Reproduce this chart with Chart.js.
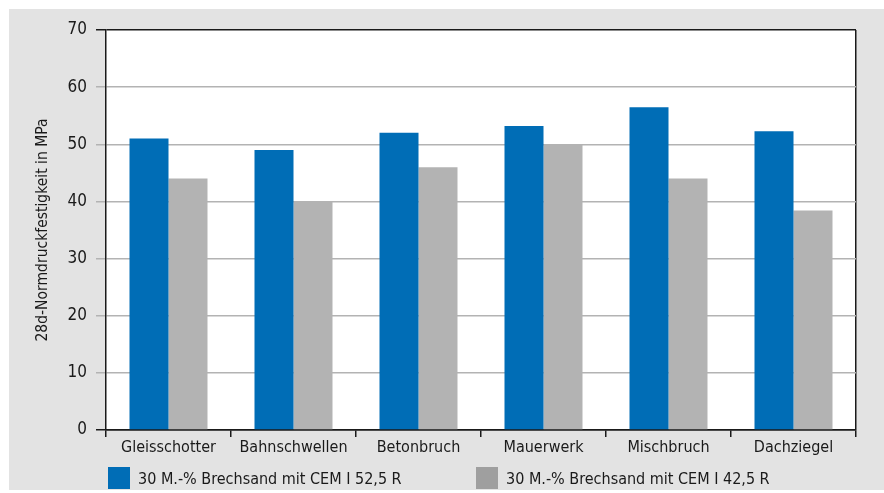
<!DOCTYPE html>
<html>
<head>
<meta charset="utf-8">
<script src="https://cdn.jsdelivr.net/npm/chart.js@4/dist/chart.umd.min.js"></script>
<style>
  body { margin: 0; background: #fff; }
  #wrap { position: absolute; left: 9px; top: 9px; width: 875px; height: 481px; background: #e3e3e3; }
  #chart { position: absolute; left: 0; top: 0; }
  .leg { position: absolute; top: 458px; height: 22px; display: flex; align-items: center;
         font-family: "DejaVu Sans Condensed", "Liberation Sans Narrow", sans-serif;
         font-size: 16px; color: #1a1a1a; white-space: nowrap; }
  .leg span.box { display: inline-block; width: 22px; height: 22px; margin-right: 8px; }
</style>
</head>
<body>
<div id="wrap">
  <canvas id="chart" width="875" height="481"></canvas>
  <div id="legend"></div>
</div>
<script>
const wrap = document.getElementById("wrap");
const canvas = document.getElementById("chart");
const legendBox = document.getElementById("legend");

// Categories on the x axis
const categories = ["Gleisschotter", "Bahnschwellen", "Betonbruch", "Mauerwerk", "Mischbruch", "Dachziegel"];

// Series names
const seriesNames = ["30 M.-% Brechsand mit CEM I 52,5 R", "30 M.-% Brechsand mit CEM I 42,5 R"];

// 28d values in MPa
const cem525 = [51, 49, 52, 53.2, 56.5, 52.3];
const cem425 = [44, 40, 46, 50, 44, 38.4];

// Colours
const barColors = ["#006db6", "#b3b3b3"];
const legendColors = ["#006db6", "#9f9f9f"];
const legendLeft = [99, 467];

const fontFamily = '"DejaVu Sans Condensed", "Liberation Sans Narrow", sans-serif';
const dark = "#1a1a1a";

// White plot area
const plotBackground = {
  id: "plotBackground",
  beforeDraw(chart) {
    const { ctx, chartArea } = chart;
    ctx.save();
    ctx.fillStyle = "#ffffff";
    ctx.fillRect(chartArea.left, chartArea.top, chartArea.right - chartArea.left, chartArea.bottom - chartArea.top);
    ctx.restore();
  },
};

let myChart = new Chart(canvas, {
  type: "bar",
  plugins: [plotBackground],
  data: {
    labels: categories,
    datasets: [
      { label: seriesNames[0], data: cem525, backgroundColor: barColors[0] },
      { label: seriesNames[1], data: cem425, backgroundColor: barColors[1] },
    ],
  },
  options: {
    responsive: false,
    animation: false,
    layout: { padding: { left: 0, top: 21, right: 28, bottom: 0 } },
    datasets: { bar: { categoryPercentage: 0.624, barPercentage: 1 } },
    plugins: {
      legend: { display: false },
      tooltip: { enabled: false },
    },
    scales: {
      x: {
        grid: {
          offset: true,
          drawOnChartArea: true,
          color: (c) => (c.type === "tick" ? "transparent" : dark),
          tickColor: dark,
          tickLength: 7,
          lineWidth: 1.5,
        },
        border: { display: true, color: dark, width: 1.5 },
        ticks: { color: dark, padding: 1, maxRotation: 0, autoSkip: false, font: { family: fontFamily, size: 16 } },
        afterFit: (scale) => { scale.height = 60; },
      },
      y: {
        min: 0,
        max: 70,
        ticks: { stepSize: 10, color: dark, padding: 9, font: { family: fontFamily, size: 17 } },
        grid: {
          color: (c) => (c.tick && (c.tick.value === 70 || c.tick.value === 0) ? dark : "#b3b3b3"),
          tickColor: (c) => (c.tick && (c.tick.value === 70 || c.tick.value === 0) ? dark : "#b3b3b3"),
          tickLength: 10,
          lineWidth: 1.5,
        },
        border: { display: true, color: dark, width: 1.5 },
        title: {
          display: true,
          text: "28d-Normdruckfestigkeit in MPa",
          color: dark,
          font: { family: fontFamily, size: 15.5 },
          padding: { top: 25, bottom: 0 },
        },
        afterFit: (scale) => { scale.width = 97; },
      },
    },
  },
});

// HTML legend built from the series
seriesNames.forEach((name, i) => {
  const item = document.createElement("div");
  item.className = "leg";
  item.style.left = legendLeft[i] + "px";
  item.innerHTML = `<span class="box" style="background:${legendColors[i]}"></span>${name}`;
  legendBox.appendChild(item);
});
</script>
</body>
</html>
